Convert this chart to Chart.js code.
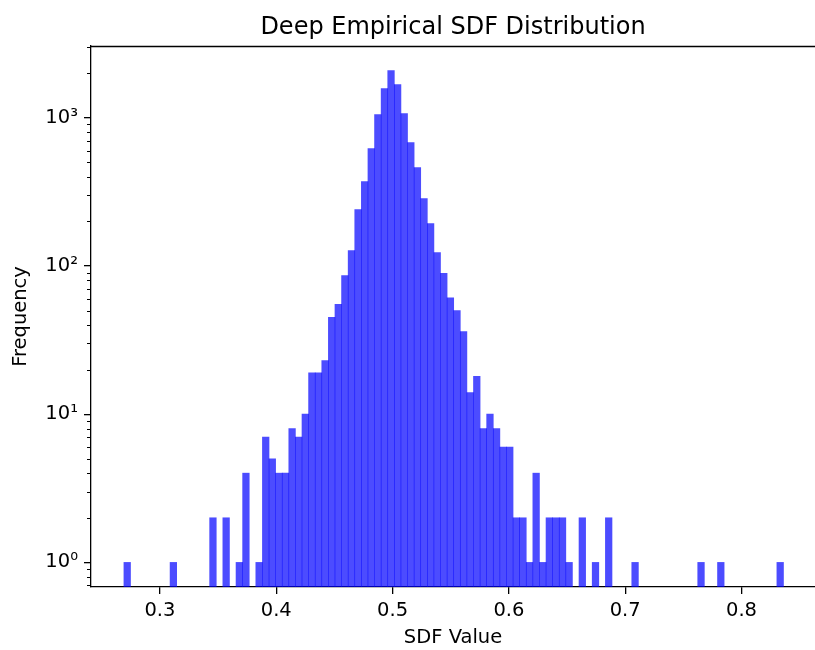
<!DOCTYPE html>
<html>
<head>
<meta charset="utf-8">
<script src="https://cdn.jsdelivr.net/npm/chart.js@4.4.0/dist/chart.umd.min.js"></script>
<style>
html,body{margin:0;padding:0;background:#fff;}
#wrap{width:815px;height:650px;}
</style>
</head>
<body>
<div id="wrap"><canvas id="c" width="815" height="650"></canvas></div>
<script>
// Histogram bins (100 equal-width bins)
const binStart = 0.2690;
const binWidth = 0.005671;
const counts = [
  1,0,0,0,0,0,0,1,0,0,
  0,0,0,2,0,2,0,1,4,0,
  1,7,5,4,4,8,7,10,19,19,
  23,45,55,86,127,240,371,619,1050,1571,
  2078,1672,1066,679,461,285,193,123,89,61,
  50,36,14,18,8,10,8,6,6,2,
  2,1,4,1,2,2,2,1,0,2,
  0,1,0,2,0,0,0,1,0,0,
  0,0,0,0,0,0,0,1,0,0,
  1,0,0,0,0,0,0,0,0,1
];
const xTickValues = [0.3,0.4,0.5,0.6,0.7,0.8];
const xTickLabels = ['0.3','0.4','0.5','0.6','0.7','0.8'];
const yMajorTicks = [1,10,100,1000];
const yTickLabels = ['10\u2070','10\u00B9','10\u00B2','10\u00B3'];
const yMinorTicks = [0.7,0.8,0.9,2,3,4,5,6,7,8,9,20,30,40,50,60,70,80,90,200,300,400,500,600,700,800,900,2000,3000];

const FONT = 'DejaVu Sans';
Chart.defaults.color = '#000';
Chart.defaults.font.family = FONT;

const points = counts.map((c, i) => ({ x: binStart + (i + 0.5) * binWidth, y: c > 0 ? c : null }));

const framePlugin = {
  id: 'frame',
  afterDraw(chart) {
    const { ctx, chartArea: a } = chart;
    const ys = chart.scales.y;
    ctx.save();
    ctx.strokeStyle = '#000';
    ctx.lineWidth = 1.3;
    ctx.beginPath();
    ctx.moveTo(a.left, Math.round(a.top) + 0.5);
    ctx.lineTo(a.right, Math.round(a.top) + 0.5);
    ctx.stroke();
    ctx.lineWidth = 1;
    ctx.beginPath();
    for (const v of yMinorTicks) {
      const p = Math.round(ys.getPixelForValue(v)) + 0.5;
      ctx.moveTo(a.left - 4, p);
      ctx.lineTo(a.left, p);
    }
    ctx.stroke();
    ctx.restore();
  }
};

new Chart(document.getElementById('c'), {
  type: 'bar',
  data: {
    datasets: [{
      data: points,
      backgroundColor: 'rgba(0,0,255,0.7)',
      borderWidth: 0,
      barPercentage: 1,
      categoryPercentage: 1
    }]
  },
  options: {
    responsive: false,
    animation: false,
    devicePixelRatio: 1,
    layout: { padding: 0 },
    plugins: {
      legend: { display: false },
      tooltip: { enabled: false },
      title: {
        display: true,
        text: 'Deep Empirical SDF Distribution',
        fullSize: false,
        color: '#000',
        font: { family: FONT, size: 24, weight: 'normal' },
        padding: { top: 13, bottom: 4.2 }
      }
    },
    scales: {
      x: {
        type: 'linear',
        min: 0.2407,
        max: 0.8632,
        offset: false,
        afterBuildTicks: s => { s.ticks = xTickValues.map(v => ({ value: v })); },
        afterFit: s => { s.height = 63; s.paddingLeft = 0; s.paddingRight = 0; },
        ticks: {
          autoSkip: false, maxRotation: 0, padding: 5,
          font: { family: FONT, size: 19.5 },
          color: '#000',
          callback: (v) => xTickLabels[xTickValues.indexOf(v)]
        },
        grid: { offset: false, drawOnChartArea: false, drawTicks: true, tickLength: 7, color: '#000', lineWidth: 1.3 },
        border: { display: true, color: '#000', width: 1.3 },
        title: { display: true, text: 'SDF Value', color: '#000', font: { family: FONT, size: 19.5 }, padding: { top: 0, bottom: 0 } }
      },
      y: {
        type: 'logarithmic',
        min: 0.6825,
        max: 3044,
        afterBuildTicks: s => { s.ticks = yMajorTicks.map(v => ({ value: v })); },
        afterFit: s => { s.width = 91; s.paddingTop = 0; s.paddingBottom = 0; },
        ticks: {
          autoSkip: false, padding: 6,
          font: { family: FONT, size: 19.5 },
          color: '#000',
          callback: (v) => yTickLabels[yMajorTicks.indexOf(v)]
        },
        grid: { offset: false, drawOnChartArea: false, drawTicks: true, tickLength: 7, color: '#000', lineWidth: 1.3 },
        border: { display: true, color: '#000', width: 1.3 },
        title: { display: true, text: 'Frequency', color: '#000', font: { family: FONT, size: 19.5 }, padding: { top: 9, bottom: 0 } }
      }
    }
  },
  plugins: [framePlugin]
});
</script>
</body>
</html>
